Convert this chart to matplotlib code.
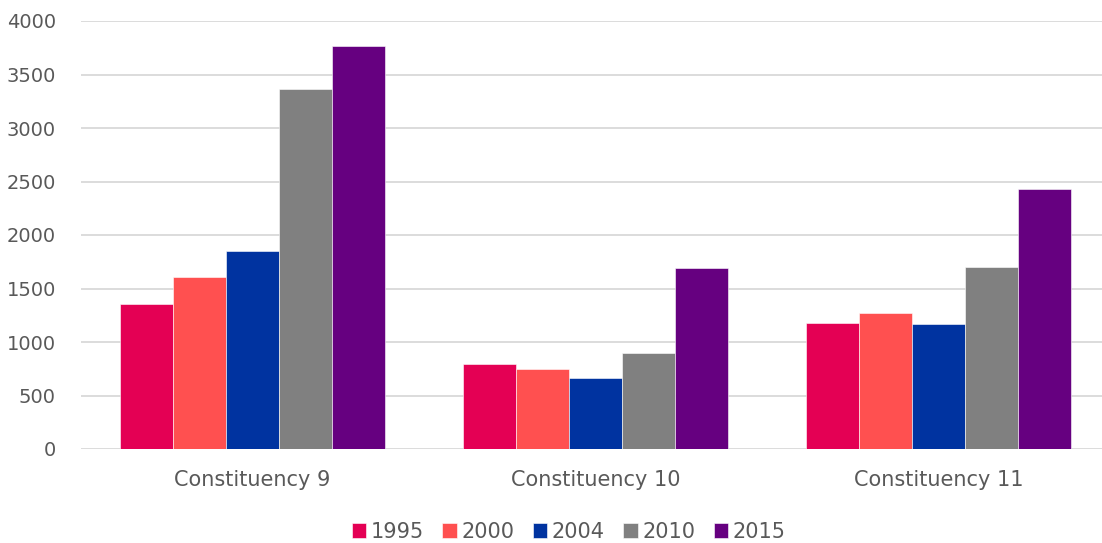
import numpy as np
import matplotlib.pyplot as plt

categories = ["Constituency 9", "Constituency 10", "Constituency 11"]
years = ["1995", "2000", "2004", "2010", "2015"]
v1995 = [1355, 790, 1178]
v2000 = [1607, 748, 1274]
v2004 = [1850, 667, 1171]
v2010 = [3360, 894, 1698]
v2015 = [3768, 1692, 2427]
yticks = [0, 500, 1000, 1500, 2000, 2500, 3000, 3500, 4000]

colors = ["#E40054", "#FF5050", "#0033A0", "#808080", "#660080"]
series = [v1995, v2000, v2004, v2010, v2015]

plt.rcParams["font.family"] = ["DejaVu Sans"]
text_color = "#595959"

fig = plt.figure(figsize=(11.02, 5.43), dpi=100)
ax = fig.add_axes([81 / 1102, 94 / 543, 1029 / 1102, 428 / 543])

x = np.arange(len(categories))
bar_w = 0.773 / len(years)
for i, (yr, vals, c) in enumerate(zip(years, series, colors)):
    offs = (i - (len(years) - 1) / 2) * bar_w
    ax.bar(x + offs, vals, width=bar_w, color=c, label=yr,
           edgecolor="white", linewidth=0.4, zorder=3)

ax.set_xlim(-0.5, len(categories) - 0.5)
ax.set_ylim(0, 4000)
ax.set_yticks(yticks)
ax.set_yticklabels([str(t) for t in yticks], fontsize=14, color=text_color)
ax.set_xticks(x)
ax.set_xticklabels(categories, fontsize=15, color=text_color)
ax.tick_params(axis="both", length=0)
ax.tick_params(axis="x", pad=15)
ax.tick_params(axis="y", pad=18)
ax.grid(axis="y", color="#D9D9D9", linewidth=1.3, zorder=0)
for s in ax.spines.values():
    s.set_visible(False)

leg = fig.legend(loc="lower center", bbox_to_anchor=(0.516, -0.032), ncol=5,
                 frameon=False, fontsize=15, handlelength=0.7, handleheight=0.7,
                 handletextpad=0.2, columnspacing=0.9, labelcolor=text_color)

fig.savefig("out.png", dpi=100)
